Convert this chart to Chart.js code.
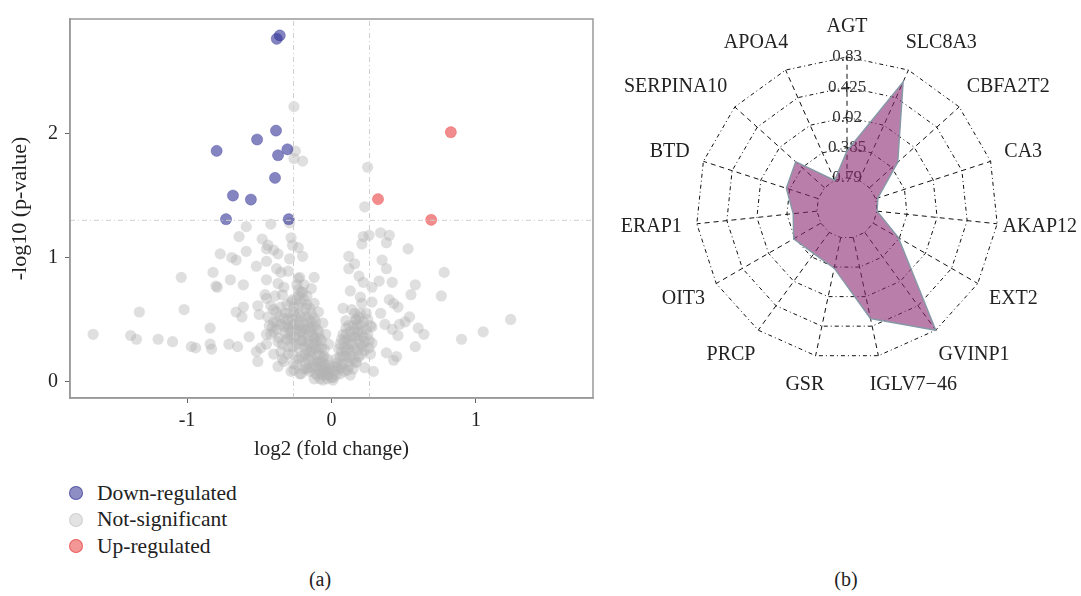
<!DOCTYPE html>
<html>
<head>
<meta charset="utf-8">
<script src="https://cdn.jsdelivr.net/npm/chart.js@4.4.1/dist/chart.umd.min.js"></script>
<style>
  body { margin: 0; background: #fff; font-family: 'Liberation Serif', serif; color: #222; }
  #page { position: relative; width: 1081px; height: 596px; overflow: hidden; background: #fff; }
  .box { position: absolute; }
  #legend { position: absolute; left: 69px; top: 480px; font-size: 21.5px; }
  #legend .item { display: flex; align-items: center; height: 26.5px; }
  #legend .dot { width: 14px; height: 14px; border-radius: 50%; margin-right: 14px; box-sizing: border-box; }
  .cap { position: absolute; top: 568px; font-size: 20px; transform: translateX(-50%); }
</style>
</head>
<body>
<div id="page">
  <div class="box" style="left:0;top:0;width:600px;height:470px"><canvas id="volcano"></canvas></div>
  <div class="box" style="left:600px;top:0;width:481px;height:420px"><canvas id="radar"></canvas></div>
  <div id="legend"></div>
  <div class="cap" style="left:320px">(a)</div>
  <div class="cap" style="left:846px">(b)</div>
</div>
<script>
// ---- volcano plot data: [log2 fold change, -log10 p] ----
const downRegulated = [
  [-0.358, 2.795], [-0.379, 2.768], [-0.384, 2.026], [-0.515, 1.954], [-0.795, 1.862],
  [-0.305, 1.875], [-0.370, 1.827], [-0.391, 1.644], [-0.682, 1.501], [-0.558, 1.469],
  [-0.730, 1.310], [-0.296, 1.310]
];
const upRegulated = [[0.826, 2.013], [0.322, 1.472], [0.690, 1.305]];
const notSignificant = [
  [-0.26, 2.22], [-0.25, 1.86], [-0.26, 1.80], [-0.20, 1.78], [0.25, 1.73], [0.23, 1.41],
  [-0.59, 1.25], [-0.42, 1.27], [-0.29, 1.28],
  [-0.64, 1.17], [-0.48, 1.15], [-0.44, 1.10], [-0.40, 1.06], [-0.45, 1.07], [-0.37, 1.03],
  [-0.28, 1.16], [-0.27, 1.10], [-0.23, 1.08], [-0.20, 1.01], [-0.29, 0.99], [-0.77, 1.03],
  [-0.69, 1.00], [-0.66, 0.98], [-0.59, 1.05], [-0.52, 0.93], [-0.45, 0.97], [-0.38, 0.91],
  [-0.35, 0.88], [-0.30, 0.89], [-0.22, 0.84], [-0.23, 0.83], [-0.12, 0.84],
  [-1.04, 0.84], [-0.82, 0.88], [-0.70, 0.82], [-0.61, 0.78], [-0.80, 0.77], [-0.79, 0.76],
  [-0.45, 0.82], [-0.37, 0.79], [-0.33, 0.76], [-0.24, 0.78], [-0.14, 0.75],
  [-1.33, 0.56], [-1.02, 0.58], [-0.66, 0.56], [-0.62, 0.52], [-0.61, 0.60], [-0.51, 0.61],
  [-0.45, 0.67], [-0.42, 0.61], [-0.39, 0.69], [-0.35, 0.60],
  [-1.65, 0.38], [-1.39, 0.37], [-1.35, 0.34], [-1.20, 0.34], [-1.10, 0.32], [-0.97, 0.28],
  [-0.94, 0.27], [-0.84, 0.43], [-0.84, 0.30], [-0.83, 0.26], [-0.71, 0.30], [-0.65, 0.28],
  [-0.57, 0.36], [-0.52, 0.24], [-0.51, 0.16], [-0.49, 0.27], [-0.37, 0.12], [-0.33, 0.16],
  [-0.26, 0.09], [-0.50, 0.54], [-0.45, 0.38], [-0.41, 0.44], [-0.38, 0.48], [-0.46, 0.70],
  [-0.34, 0.70],
  [0.34, 1.20], [0.40, 1.18], [0.22, 1.17], [0.26, 1.18], [0.21, 1.11], [0.38, 1.12],
  [0.53, 1.07], [0.12, 1.01], [0.16, 0.95], [0.12, 0.91], [0.35, 0.98], [0.38, 0.91],
  [0.78, 0.88], [0.19, 0.85], [0.22, 0.80], [0.28, 0.76], [0.33, 0.81], [0.42, 0.80],
  [0.58, 0.78], [0.55, 0.70], [0.76, 0.69], [0.13, 0.73], [0.20, 0.68], [0.08, 0.59],
  [0.21, 0.63], [0.28, 0.64], [0.34, 0.55], [0.40, 0.66], [0.43, 0.63], [0.46, 0.60],
  [0.54, 0.52], [0.51, 0.48], [0.10, 0.49], [0.17, 0.50], [0.28, 0.44], [0.37, 0.46],
  [0.42, 0.42], [0.47, 0.46], [0.60, 0.43], [0.64, 0.38], [0.58, 0.28], [0.90, 0.34],
  [1.05, 0.40], [1.24, 0.50], [0.46, 0.37], [0.38, 0.23], [0.45, 0.20], [0.43, 0.17],
  [0.29, 0.08], [0.23, 0.11], [0.17, 0.16], [0.27, 0.22],
  // dense core, left arm
  [-0.23, 0.69], [-0.21, 0.64], [-0.18, 0.59], [-0.16, 0.51], [-0.14, 0.43], [-0.11, 0.35],
  [-0.09, 0.27], [-0.06, 0.19], [-0.03, 0.11], [0.00, 0.03], [0.01, 0.01], [-0.28, 0.64],
  [-0.26, 0.56], [-0.23, 0.48], [-0.21, 0.40], [-0.17, 0.32], [-0.14, 0.24], [-0.10, 0.16],
  [-0.06, 0.08], [-0.04, 0.05], [-0.33, 0.51], [-0.30, 0.43], [-0.28, 0.35], [-0.23, 0.27],
  [-0.20, 0.19], [-0.16, 0.11], [-0.11, 0.06], [-0.08, 0.02], [-0.40, 0.40], [-0.37, 0.32],
  [-0.35, 0.24], [-0.30, 0.22], [-0.26, 0.14], [-0.21, 0.06], [-0.42, 0.38], [-0.45, 0.30],
  [-0.40, 0.22], [-0.34, 0.30], [-0.15, 0.59], [-0.12, 0.51], [-0.10, 0.42], [-0.08, 0.35],
  [-0.05, 0.26], [-0.03, 0.18], [-0.02, 0.08], [-0.21, 0.72], [-0.17, 0.69], [-0.12, 0.63],
  [-0.09, 0.56], [-0.06, 0.47], [-0.04, 0.38], [-0.02, 0.30],
  [-0.32, 0.55], [-0.27, 0.50], [-0.22, 0.55], [-0.19, 0.47], [-0.25, 0.42], [-0.29, 0.37],
  [-0.20, 0.38], [-0.16, 0.44], [-0.13, 0.37], [-0.24, 0.30], [-0.19, 0.28], [-0.12, 0.30],
  [-0.27, 0.22], [-0.21, 0.20], [-0.15, 0.24], [-0.10, 0.21], [-0.24, 0.13], [-0.18, 0.14],
  [-0.13, 0.16], [-0.08, 0.12], [-0.15, 0.08], [-0.10, 0.05], [-0.06, 0.05], [-0.05, 0.10],
  [-0.12, 0.02], [-0.03, 0.02], [-0.20, 0.33], [-0.30, 0.28], [-0.34, 0.18], [-0.28, 0.08],
  [-0.36, 0.35], [-0.31, 0.46], [-0.26, 0.60], [-0.20, 0.72], [-0.24, 0.66], [-0.17, 0.62],
  [-0.14, 0.55], [-0.11, 0.48], [-0.09, 0.40], [-0.07, 0.33], [-0.05, 0.20], [-0.02, 0.13],
  [-0.07, 0.27], [-0.18, 0.52], [-0.22, 0.45], [-0.26, 0.35], [-0.16, 0.30], [-0.09, 0.15],
  [-0.17, 0.10], [-0.22, 0.06],
  [-0.44, 0.52], [-0.40, 0.58], [-0.36, 0.52], [-0.33, 0.44], [-0.31, 0.62], [-0.29, 0.55],
  [-0.27, 0.45], [-0.25, 0.52], [-0.23, 0.60], [-0.21, 0.52], [-0.19, 0.66], [-0.18, 0.42],
  [-0.16, 0.36], [-0.14, 0.48], [-0.13, 0.28], [-0.11, 0.26], [-0.10, 0.32], [-0.08, 0.22],
  [-0.07, 0.16], [-0.05, 0.14], [-0.04, 0.08], [-0.02, 0.05], [-0.01, 0.10], [-0.06, 0.01],
  [-0.09, 0.09], [-0.13, 0.11], [-0.19, 0.10], [-0.18, 0.22], [-0.23, 0.18], [-0.27, 0.28],
  [-0.31, 0.34], [-0.38, 0.42], [-0.35, 0.46], [-0.32, 0.39], [-0.28, 0.41], [-0.24, 0.36],
  [-0.20, 0.43], [-0.15, 0.40], [-0.12, 0.44], [-0.16, 0.18], [-0.11, 0.12], [-0.07, 0.06],
  [-0.03, 0.06], [-0.40, 0.48], [-0.43, 0.45], [-0.38, 0.56], [-0.30, 0.50], [-0.26, 0.46],
  [-0.22, 0.40], [-0.21, 0.33], [-0.17, 0.26], [-0.14, 0.20], [-0.12, 0.35], [-0.27, 0.66],
  [-0.23, 0.74], [-0.19, 0.78],
  // dense core, right arm
  [0.03, 0.05], [0.05, 0.10], [0.08, 0.14], [0.10, 0.20], [0.12, 0.26], [0.14, 0.31],
  [0.16, 0.36], [0.18, 0.40], [0.20, 0.45], [0.06, 0.20], [0.09, 0.28], [0.11, 0.34],
  [0.13, 0.40], [0.15, 0.45], [0.17, 0.50], [0.04, 0.15], [0.07, 0.24], [0.20, 0.30],
  [0.22, 0.36], [0.24, 0.42], [0.18, 0.25], [0.15, 0.18], [0.12, 0.12], [0.09, 0.08],
  [0.02, 0.08], [0.06, 0.30], [0.10, 0.38], [0.20, 0.55], [0.25, 0.50], [0.23, 0.25],
  [0.17, 0.15], [0.13, 0.05], [0.26, 0.33], [0.14, 0.24], [0.11, 0.16], [0.01, 0.03],
  [0.08, 0.38], [0.19, 0.33], [0.16, 0.27], [0.21, 0.40],
  [0.04, 0.12], [0.06, 0.06], [0.08, 0.20], [0.10, 0.25], [0.12, 0.30], [0.14, 0.36],
  [0.16, 0.42], [0.18, 0.46], [0.19, 0.52], [0.22, 0.48], [0.24, 0.55], [0.21, 0.28],
  [0.23, 0.32], [0.25, 0.38], [0.27, 0.45], [0.15, 0.10], [0.19, 0.20], [0.21, 0.22],
  [0.13, 0.20], [0.09, 0.33], [0.12, 0.45], [0.10, 0.43], [0.07, 0.34], [0.05, 0.26],
  [0.03, 0.18], [0.02, 0.12], [0.11, 0.09], [0.07, 0.11], [0.18, 0.37], [0.26, 0.27],
  [0.28, 0.31], [0.16, 0.55], [0.14, 0.58]
];
const legendLabels = ['Down-regulated', 'Not-significant', 'Up-regulated'];
const xTicks = [-1, 0, 1];
const yTicks = [0, 1, 2];
const xRange = [-1.81, 1.81];
const yRange = [-0.135, 2.928];
const fcCut = 0.263;    // log2(1.2)
const pCut = 1.301;     // -log10(0.05)

// ---- radar data ----
const radarLabels = ['AGT', 'SLC8A3', 'CBFA2T2', 'CA3', 'AKAP12', 'EXT2', 'GVINP1', 'IGLV7\u221246',
  'GSR', 'PRCP', 'OIT3', 'ERAP1', 'BTD', 'SERPINA10', 'APOA4'];
const radarValues = [-0.43, 0.655, -0.28, -0.76, -0.79, -0.40, 0.83, 0.32,
  -0.37, -0.44, -0.37, -0.47, -0.34, -0.27, -0.79];
const radarTicks = [-0.79, -0.385, 0.02, 0.425, 0.83];
const radarTickLabels = ['0.79', '0.385', '0.02', '0.425', '0.83'];
const radarCenterValue = -1.195;  // one ring step inside the lowest ring

Chart.defaults.font.family = "'Liberation Serif', serif";
Chart.defaults.color = '#222';
Chart.defaults.animation = false;

const toXY = (arr) => arr.map(([x, y]) => ({ x, y }));
const colors = {
  down: 'rgba(50,50,150,0.6)',
  ns: 'rgba(178,178,178,0.42)',
  up: 'rgba(232,45,45,0.55)'
};

const frame = {
  id: 'frame',
  afterDatasetsDraw(chart) {
    const { ctx, chartArea: a } = chart;
    ctx.save();
    ctx.strokeStyle = '#999';
    ctx.lineWidth = 1.5;
    ctx.strokeRect(a.left, a.top, a.right - a.left, a.bottom - a.top);
    ctx.restore();
  }
};

const cutLine = (data) => ({
  data, showLine: true, pointRadius: 0, borderColor: '#cfcfcf', borderWidth: 1,
  borderDash: [5, 3, 1, 3], order: 0
});

const volcano = new Chart(document.getElementById('volcano'), {
  type: 'scatter',
  data: {
    datasets: [
      { label: legendLabels[0], data: toXY(downRegulated), backgroundColor: colors.down, borderColor: colors.down, borderWidth: 0.5, pointRadius: 5.6, order: 1 },
      { label: legendLabels[1], data: toXY(notSignificant), backgroundColor: colors.ns, borderWidth: 0, pointRadius: 5.6, order: 3 },
      { label: legendLabels[2], data: toXY(upRegulated), backgroundColor: colors.up, borderColor: colors.up, borderWidth: 0.5, pointRadius: 5.6, order: 1 },
      cutLine([{ x: -fcCut, y: yRange[0] }, { x: -fcCut, y: yRange[1] }]),
      cutLine([{ x: fcCut, y: yRange[0] }, { x: fcCut, y: yRange[1] }]),
      cutLine([{ x: xRange[0], y: pCut }, { x: xRange[1], y: pCut }])
    ]
  },
  options: {
    responsive: true,
    maintainAspectRatio: false,
    layout: { padding: { left: 0, right: 7, top: 13, bottom: 0 } },
    plugins: { legend: { display: false }, tooltip: { enabled: false } },
    scales: {
      x: {
        min: xRange[0], max: xRange[1],
        afterBuildTicks: (s) => { s.ticks = xTicks.map((v) => ({ value: v })); },
        afterFit: (s) => { s.height = 72; },
        grid: { display: true, drawOnChartArea: false, drawTicks: true, tickLength: 5, color: '#666' },
        border: { display: true, color: '#999', width: 1.5 },
        ticks: { font: { size: 20 }, padding: 6, color: '#222' },
        title: { display: true, text: 'log2 (fold change)', font: { size: 21 }, padding: { bottom: 8 }, color: '#222' }
      },
      y: {
        min: yRange[0], max: yRange[1],
        afterBuildTicks: (s) => { s.ticks = yTicks.map((v) => ({ value: v })); },
        afterFit: (s) => { s.width = 70; },
        grid: { display: true, drawOnChartArea: false, drawTicks: true, tickLength: 5, color: '#666' },
        border: { display: true, color: '#999', width: 1.5 },
        ticks: { font: { size: 20 }, padding: 7, color: '#222' },
        title: { display: true, text: '-log10 (p-value)', font: { size: 22 }, padding: { top: 7 }, color: '#222' }
      }
    }
  },
  plugins: [frame]
});

// html legend built from the chart's datasets
const legendEl = document.getElementById('legend');
const legendDots = ['rgba(50,50,150,0.55)', 'rgba(200,200,200,0.5)', 'rgba(232,45,45,0.5)'];
volcano.data.datasets.slice(0, 3).forEach((ds, i) => {
  const row = document.createElement('div');
  row.className = 'item';
  const dot = document.createElement('span');
  dot.className = 'dot';
  dot.style.background = legendDots[i];
  dot.style.border = '1px solid ' + ds.backgroundColor;
  row.appendChild(dot);
  row.appendChild(document.createTextNode(ds.label));
  legendEl.appendChild(row);
});

// radar: spokes start at the lowest ring, labels centred around 1.2x the outer ring
const radarDecor = {
  id: 'radarDecor',
  beforeDatasetsDraw(chart) {
    const s = chart.scales.r, ctx = chart.ctx;
    const r0 = s.getDistanceFromCenterForValue(radarTicks[0]);
    const r1 = s.getDistanceFromCenterForValue(s.max);
    ctx.save();
    ctx.strokeStyle = '#111';
    ctx.lineWidth = 1;
    ctx.setLineDash([5, 4]);
    radarLabels.forEach((_, i) => {
      const a = s.getPointPosition(i, r0);
      const b = s.getPointPosition(i, r1);
      ctx.beginPath();
      ctx.moveTo(a.x, a.y);
      ctx.lineTo(b.x, b.y);
      ctx.stroke();
    });
    ctx.restore();
  },
  afterDraw(chart) {
    const s = chart.scales.r, ctx = chart.ctx;
    const rl = s.drawingArea * 1.2;
    ctx.save();
    ctx.fillStyle = '#222';
    ctx.font = "20px 'Liberation Serif', serif";
    ctx.textAlign = 'center';
    ctx.textBaseline = 'middle';
    radarLabels.forEach((lab, i) => {
      const p = s.getPointPosition(i, rl);
      const dx = p.x - s.xCenter;
      const half = ctx.measureText(lab).width / 2;
      const shift = Math.abs(dx) > 0.1 * rl ? Math.sign(dx) * Math.max(0, half - 15) : 0;
      const x = Math.max(half + 3, Math.min(chart.width - half - 4, p.x + shift));
      ctx.fillText(lab, x, p.y);
    });
    ctx.restore();
  }
};

new Chart(document.getElementById('radar'), {
  type: 'radar',
  data: {
    labels: radarLabels,
    datasets: [{
      data: radarValues,
      fill: 'start',
      backgroundColor: 'rgba(140,40,115,0.6)',
      borderColor: '#8798a6',
      borderWidth: 1.5,
      pointRadius: 0
    }]
  },
  options: {
    responsive: true,
    maintainAspectRatio: false,
    layout: { padding: { left: 40, right: 27, top: 47, bottom: 50 } },
    plugins: { legend: { display: false }, tooltip: { enabled: false } },
    scales: {
      r: {
        min: radarCenterValue,
        max: radarTicks[radarTicks.length - 1],
        afterBuildTicks: (s) => { s.ticks = radarTicks.map((v) => ({ value: v })); },
        grid: { circular: false, color: '#111', lineWidth: 1, borderDash: [4, 3, 1, 3] },
        border: { dash: [4, 3, 1, 3] },
        angleLines: { display: false },
        pointLabels: { display: false },
        ticks: {
          font: { size: 17 },
          color: '#333',
          showLabelBackdrop: false,
          callback: (v, i) => radarTickLabels[i]
        }
      }
    }
  },
  plugins: [radarDecor]
});
</script>
</body>
</html>
